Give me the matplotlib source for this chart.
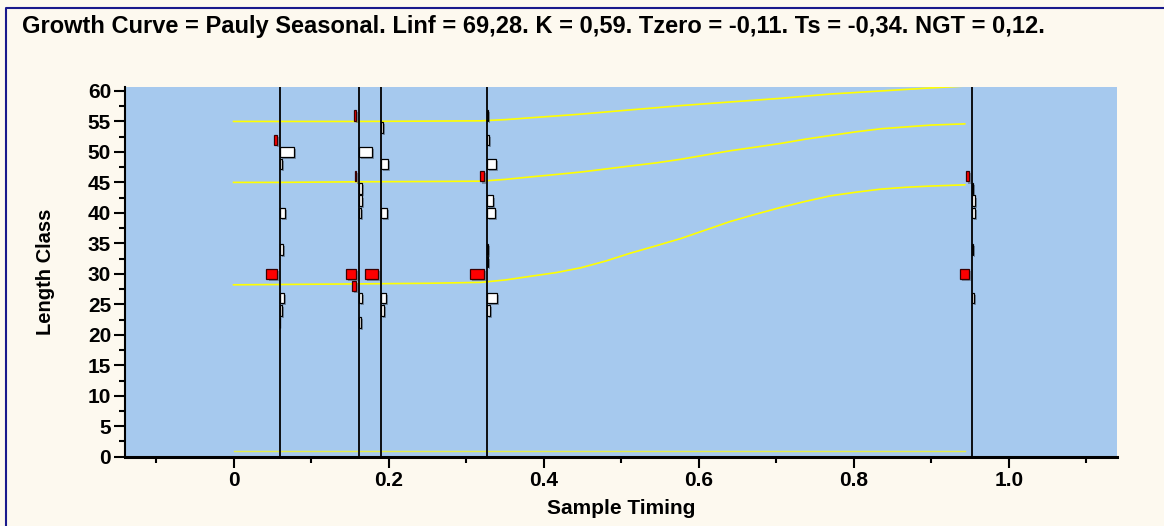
import matplotlib
matplotlib.use('Agg')
import matplotlib.pyplot as plt
import matplotlib.patheffects as pe
from matplotlib.lines import Line2D
from matplotlib.ticker import MultipleLocator, FixedLocator

plt.rcParams['font.family'] = ['Liberation Sans', 'DejaVu Sans']
plt.rcParams['font.weight'] = 'bold'

# sample timings (vertical lines)
sample_times = [0.0597, 0.1617, 0.1906, 0.3274, 0.9519]

# restructured scores per sample: length class, score (negative = red, left of line)
s1_len = [52, 50, 48, 40, 34, 30, 26, 24, 22]
s1_val = [-0.23, 1.43, 0.2, 0.53, 0.33, -1.03, 0.37, 0.2, 0.05]
s2_len = [56, 50, 46, 44, 42, 40, 30, 28, 26, 22]
s2_val = [-0.23, 1.33, -0.1, 0.33, 0.3, 0.23, -0.97, -0.37, 0.27, 0.23]
s3_len = [54, 48, 40, 30, 26, 24]
s3_val = [0.2, 0.63, 0.6, -1.33, 0.43, 0.23]
s4_len = [56, 52, 48, 46, 42, 40, 34, 32, 30, 26, 24]
s4_val = [0.1, 0.17, 0.9, -0.43, 0.6, 0.8, 0.1, 0.1, -1.43, 1.0, 0.27]
s5_len = [46, 44, 42, 40, 34, 30, 26]
s5_val = [-0.27, 0.1, 0.3, 0.3, 0.1, -0.87, 0.2]
sample_lens = [s1_len, s2_len, s3_len, s4_len, s5_len]
sample_vals = [s1_val, s2_val, s3_val, s4_val, s5_val]

# growth curves
curve_t = [0, 0.06, 0.16, 0.25, 0.319, 0.351, 0.383, 0.416, 0.448, 0.480, 0.512, 0.545,
           0.577, 0.609, 0.641, 0.674, 0.706, 0.738, 0.770, 0.803, 0.835, 0.867, 0.899, 0.943]
curve_low = [28.2, 28.25, 28.35, 28.45, 28.6, 29.0, 29.6, 30.2, 31.0, 32.1, 33.4, 34.6,
             35.8, 37.2, 38.6, 39.8, 40.9, 41.9, 42.8, 43.4, 43.9, 44.2, 44.4, 44.6]
curve_mid = [45.0, 45.0, 45.1, 45.15, 45.2, 45.5, 45.9, 46.3, 46.7, 47.2, 47.7, 48.2,
             48.8, 49.5, 50.2, 50.8, 51.4, 52.1, 52.7, 53.3, 53.8, 54.1, 54.4, 54.6]
curve_top = [55.0, 55.0, 55.0, 55.05, 55.1, 55.3, 55.6, 55.9, 56.2, 56.55, 56.9, 57.25,
             57.6, 57.9, 58.2, 58.5, 58.8, 59.15, 59.5, 59.75, 60.0, 60.25, 60.5, 60.8]
base_t = [0, 0.943]
base_l = [0.95, 0.95]

title = ('Growth Curve = Pauly Seasonal. Linf = 69,28. K = 0,59. Tzero = -0,11. '
         'Ts = -0,34. NGT = 0,12.')

bg = '#FDF9EF'
fig = plt.figure(figsize=(11.64, 5.26), dpi=100, facecolor=bg)
ax = fig.add_axes([125/1164, 1-456.7/526, (1116.7-125)/1164, (456.7-87.3)/526])
ax.set_facecolor('#A6C9EE')

# frame lines (left and top) of the chart panel
fig.add_artist(Line2D([6/1164, 6/1164, 1], [0, 1-8/526, 1-8/526],
                      transform=fig.transFigure, color='#1A1A8C', lw=1.5))

scale = 0.0129  # time units per score unit
gap = 0.004
bar_h = 1.7
shadow = [pe.SimplePatchShadow(offset=(1.5, -1.5), shadow_rgbFace='#55667a', alpha=0.6), pe.Normal()]

for t, lens, vals in zip(sample_times, sample_lens, sample_vals):
    ax.axvline(t, color='black', lw=1.3, zorder=3)
    for L, v in zip(lens, vals):
        w = abs(v) * scale
        if v >= 0:
            b = ax.barh(L, w, left=t, height=bar_h, color='white', edgecolor='black', lw=0.9, zorder=4)
        else:
            b = ax.barh(L, w, left=t - gap - w, height=bar_h, color='red', edgecolor='#3a0000', lw=0.9, zorder=4)
        for p in b:
            p.set_path_effects(shadow)

for c in [curve_low, curve_mid, curve_top]:
    ax.plot(curve_t, c, color='#FFFF00', lw=1.2, zorder=2)
ax.plot(base_t, base_l, color='#FFFF00', lw=1.0, alpha=0.7, zorder=2)

ax.set_xlim(-0.14, 1.139)
ax.set_ylim(0, 60.6)
ax.xaxis.set_major_locator(FixedLocator([0, 0.2, 0.4, 0.6, 0.8, 1.0]))
ax.set_xticklabels(['0', '0.2', '0.4', '0.6', '0.8', '1.0'])
ax.xaxis.set_minor_locator(FixedLocator([-0.1, 0.1, 0.3, 0.5, 0.7, 0.9, 1.1]))
ax.yaxis.set_major_locator(MultipleLocator(5))
ax.yaxis.set_minor_locator(MultipleLocator(2.5))
ax.tick_params(which='major', length=8, width=1.5, labelsize=15, pad=2)
ax.tick_params(which='minor', length=4, width=1.5)
for lab in ax.get_xticklabels() + ax.get_yticklabels():
    lab.set_fontweight('bold')

for s in ['top', 'right']:
    ax.spines[s].set_visible(False)
ax.spines['left'].set_linewidth(1.5)
ax.spines['bottom'].set_linewidth(2.2)

ax.set_xlabel('Sample Timing', fontsize=15, fontweight='bold')
ax.set_ylabel('Length Class', fontsize=14.5, fontweight='bold')
ax.xaxis.set_label_coords(0.5, -0.115)
ax.yaxis.set_label_coords(-0.071, 0.5)

fig.text(22/1164, 1-27/526, title, fontsize=17, fontweight='bold', va='center', ha='left')

fig.savefig('out.png', dpi=100, facecolor=bg)
